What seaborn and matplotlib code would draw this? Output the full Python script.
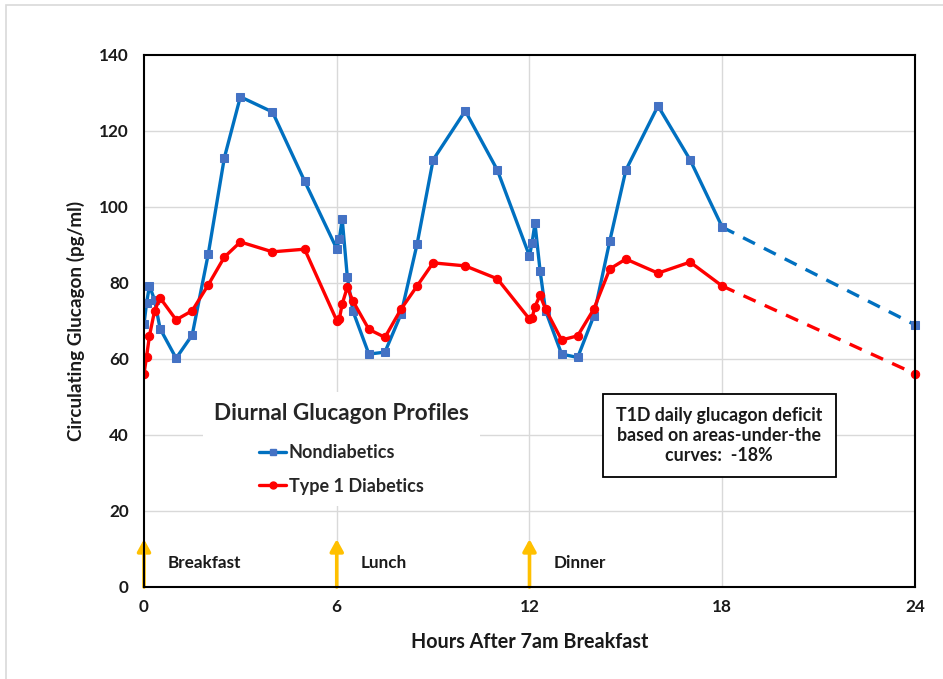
import matplotlib
matplotlib.use("Agg")
import matplotlib.pyplot as plt
import seaborn as sns
import pandas as pd
from matplotlib.lines import Line2D
from matplotlib.patches import Rectangle

# ---- data ----
hours = [0, 0.08, 0.17, 0.33, 0.5, 1, 1.5, 2, 2.5, 3, 4, 5,
         6, 6.08, 6.17, 6.33, 6.5, 7, 7.5, 8, 8.5, 9, 10, 11,
         12, 12.08, 12.17, 12.33, 12.5, 13, 13.5, 14, 14.5, 15, 16, 17, 18]
nondiabetic = [69.2, 74.7, 79.3, 75.5, 68.0, 60.2, 66.3, 87.6, 112.9, 129.0, 125.0, 106.8,
               89.0, 91.5, 96.8, 81.5, 72.7, 61.3, 61.8, 71.8, 90.2, 112.4, 125.3, 109.7,
               87.1, 90.6, 95.7, 83.2, 72.7, 61.3, 60.4, 71.3, 91.1, 109.7, 126.6, 112.4, 94.7]
type1 = [56.1, 60.6, 66.1, 72.7, 76.1, 70.3, 72.7, 79.5, 86.8, 90.8, 88.2, 88.9,
         70.1, 70.5, 74.5, 78.9, 75.3, 67.8, 65.7, 73.1, 79.2, 85.3, 84.5, 81.1,
         70.5, 70.8, 73.8, 76.8, 73.1, 65.0, 66.1, 73.1, 83.7, 86.3, 82.6, 85.5, 79.2]
extrap_hours = [18, 24]
nondiabetic_extrap = [94.7, 69.0]
type1_extrap = [79.2, 56.1]
meal_hours = [0, 6, 12]
meal_labels = ["Breakfast", "Lunch", "Dinner"]
x_ticks = [0, 6, 12, 18, 24]
y_ticks = [0, 20, 40, 60, 80, 100, 120, 140]

BLUE_LINE = "#0070C0"
BLUE_MARK = "#4472C4"
RED = "#FF0000"
GOLD = "#FFC000"
TXT = "#1a1a1a"

sns.set_theme(style="white")
plt.rcParams["font.family"] = ["Lato", "DejaVu Sans"]

fig = plt.figure(figsize=(9.43, 6.79), dpi=100)
ax = fig.add_axes([0.1527, 0.1355, 0.8176, 0.7835])

# outer chart border
fig.add_artist(Rectangle((0.006, -0.01), 1.2, 1.003, transform=fig.transFigure,
                         fill=False, edgecolor="#D9D9D9", linewidth=1.2))

df_nd = pd.DataFrame({"h": hours, "v": nondiabetic})
df_t1 = pd.DataFrame({"h": hours, "v": type1})

lw = 2.4
sns.lineplot(data=df_nd, x="h", y="v", ax=ax, color=BLUE_LINE, linewidth=lw,
             marker="s", markersize=6, markerfacecolor=BLUE_MARK,
             markeredgecolor=BLUE_MARK, sort=False, zorder=4)
sns.lineplot(data=df_t1, x="h", y="v", ax=ax, color=RED, linewidth=lw,
             marker="o", markersize=6, markerfacecolor=RED,
             markeredgecolor=RED, sort=False, zorder=5)

for ys, mk, mc, lc in [(nondiabetic_extrap, "s", BLUE_MARK, BLUE_LINE),
                       (type1_extrap, "o", RED, RED)]:
    sns.lineplot(x=extrap_hours, y=ys, ax=ax, color=lc, linewidth=lw, zorder=3)
    ln = ax.lines[-1]
    ln.set_dashes((4, 3))
    ln.set_marker(mk)
    ln.set_markevery([1])
    ln.set_markerfacecolor(mc)
    ln.set_markeredgecolor(mc)
    ln.set_markersize(6)
    ln.set_clip_on(False)

# meal arrows and labels
for mh, lab in zip(meal_hours, meal_labels):
    ax.annotate("", xy=(mh, 12.6), xytext=(mh, 0),
                arrowprops=dict(arrowstyle="-|>,head_length=0.6,head_width=0.33",
                                color=GOLD, lw=2.6, shrinkA=0, shrinkB=0),
                zorder=6, annotation_clip=False)
    ax.text(mh + 0.75, 6.4, lab, fontsize=12.3, fontweight="bold",
            va="center", ha="left", color=TXT)

ax.set_xlim(0, 24)
ax.set_ylim(0, 140)
ax.set_xticks(x_ticks)
ax.set_yticks(y_ticks)
ax.set_xticklabels([str(t) for t in x_ticks], fontsize=12.3, fontweight="bold")
ax.set_yticklabels([str(t) for t in y_ticks], fontsize=12.3, fontweight="bold")
ax.tick_params(axis="x", length=0, pad=9, colors=TXT)
ax.tick_params(axis="y", length=0, pad=11, colors=TXT)

# gridlines
for yv in y_ticks[1:-1]:
    ax.axhline(yv, color="#D9D9D9", linewidth=1.0, zorder=0)
for xv in x_ticks[1:-1]:
    ax.axvline(xv, color="#D9D9D9", linewidth=1.0, zorder=0)

for s in ax.spines.values():
    s.set_color("black")
    s.set_linewidth(1.5)
    s.set_zorder(7)

ax.set_xlabel("Hours After 7am Breakfast", fontsize=14.2, fontweight="bold",
              labelpad=12, color=TXT)
ax.set_ylabel("Circulating Glucagon (pg/ml)", fontsize=13.6, fontweight="bold",
              labelpad=10, color=TXT)

# legend with title
handles = [Line2D([0], [0], color=BLUE_LINE, lw=lw, marker="s", markersize=5,
                  markerfacecolor=BLUE_MARK, markeredgecolor=BLUE_MARK),
           Line2D([0], [0], color=RED, lw=lw, marker="o", markersize=5,
                  markerfacecolor=RED, markeredgecolor=RED)]
leg = ax.legend(handles, ["Nondiabetics", "Type 1 Diabetics"],
                title="Diurnal Glucagon Profiles",
                loc="center", bbox_to_anchor=(0.256, 0.26),
                frameon=True, facecolor="white", edgecolor="none",
                framealpha=1.0, fancybox=False, handlelength=1.5,
                handletextpad=0.12, labelspacing=0.9,
                prop={"size": 13, "weight": "bold"}, borderpad=0.6)
leg.get_title().set_fontsize(16.2)
leg.get_title().set_fontweight("bold")
leg._legend_box.sep = 15
leg.set_zorder(8)

# annotation box
ax.text(17.9, 39.9, "T1D daily glucagon deficit\nbased on areas-under-the\ncurves:  -18%",
        ha="center", va="center", fontsize=12.8, fontweight="bold", linespacing=1.2,
        color=TXT,
        bbox=dict(boxstyle="square,pad=0.75", facecolor="white",
                  edgecolor="black", linewidth=1.3), zorder=8)

fig.savefig("out.png", dpi=100)
